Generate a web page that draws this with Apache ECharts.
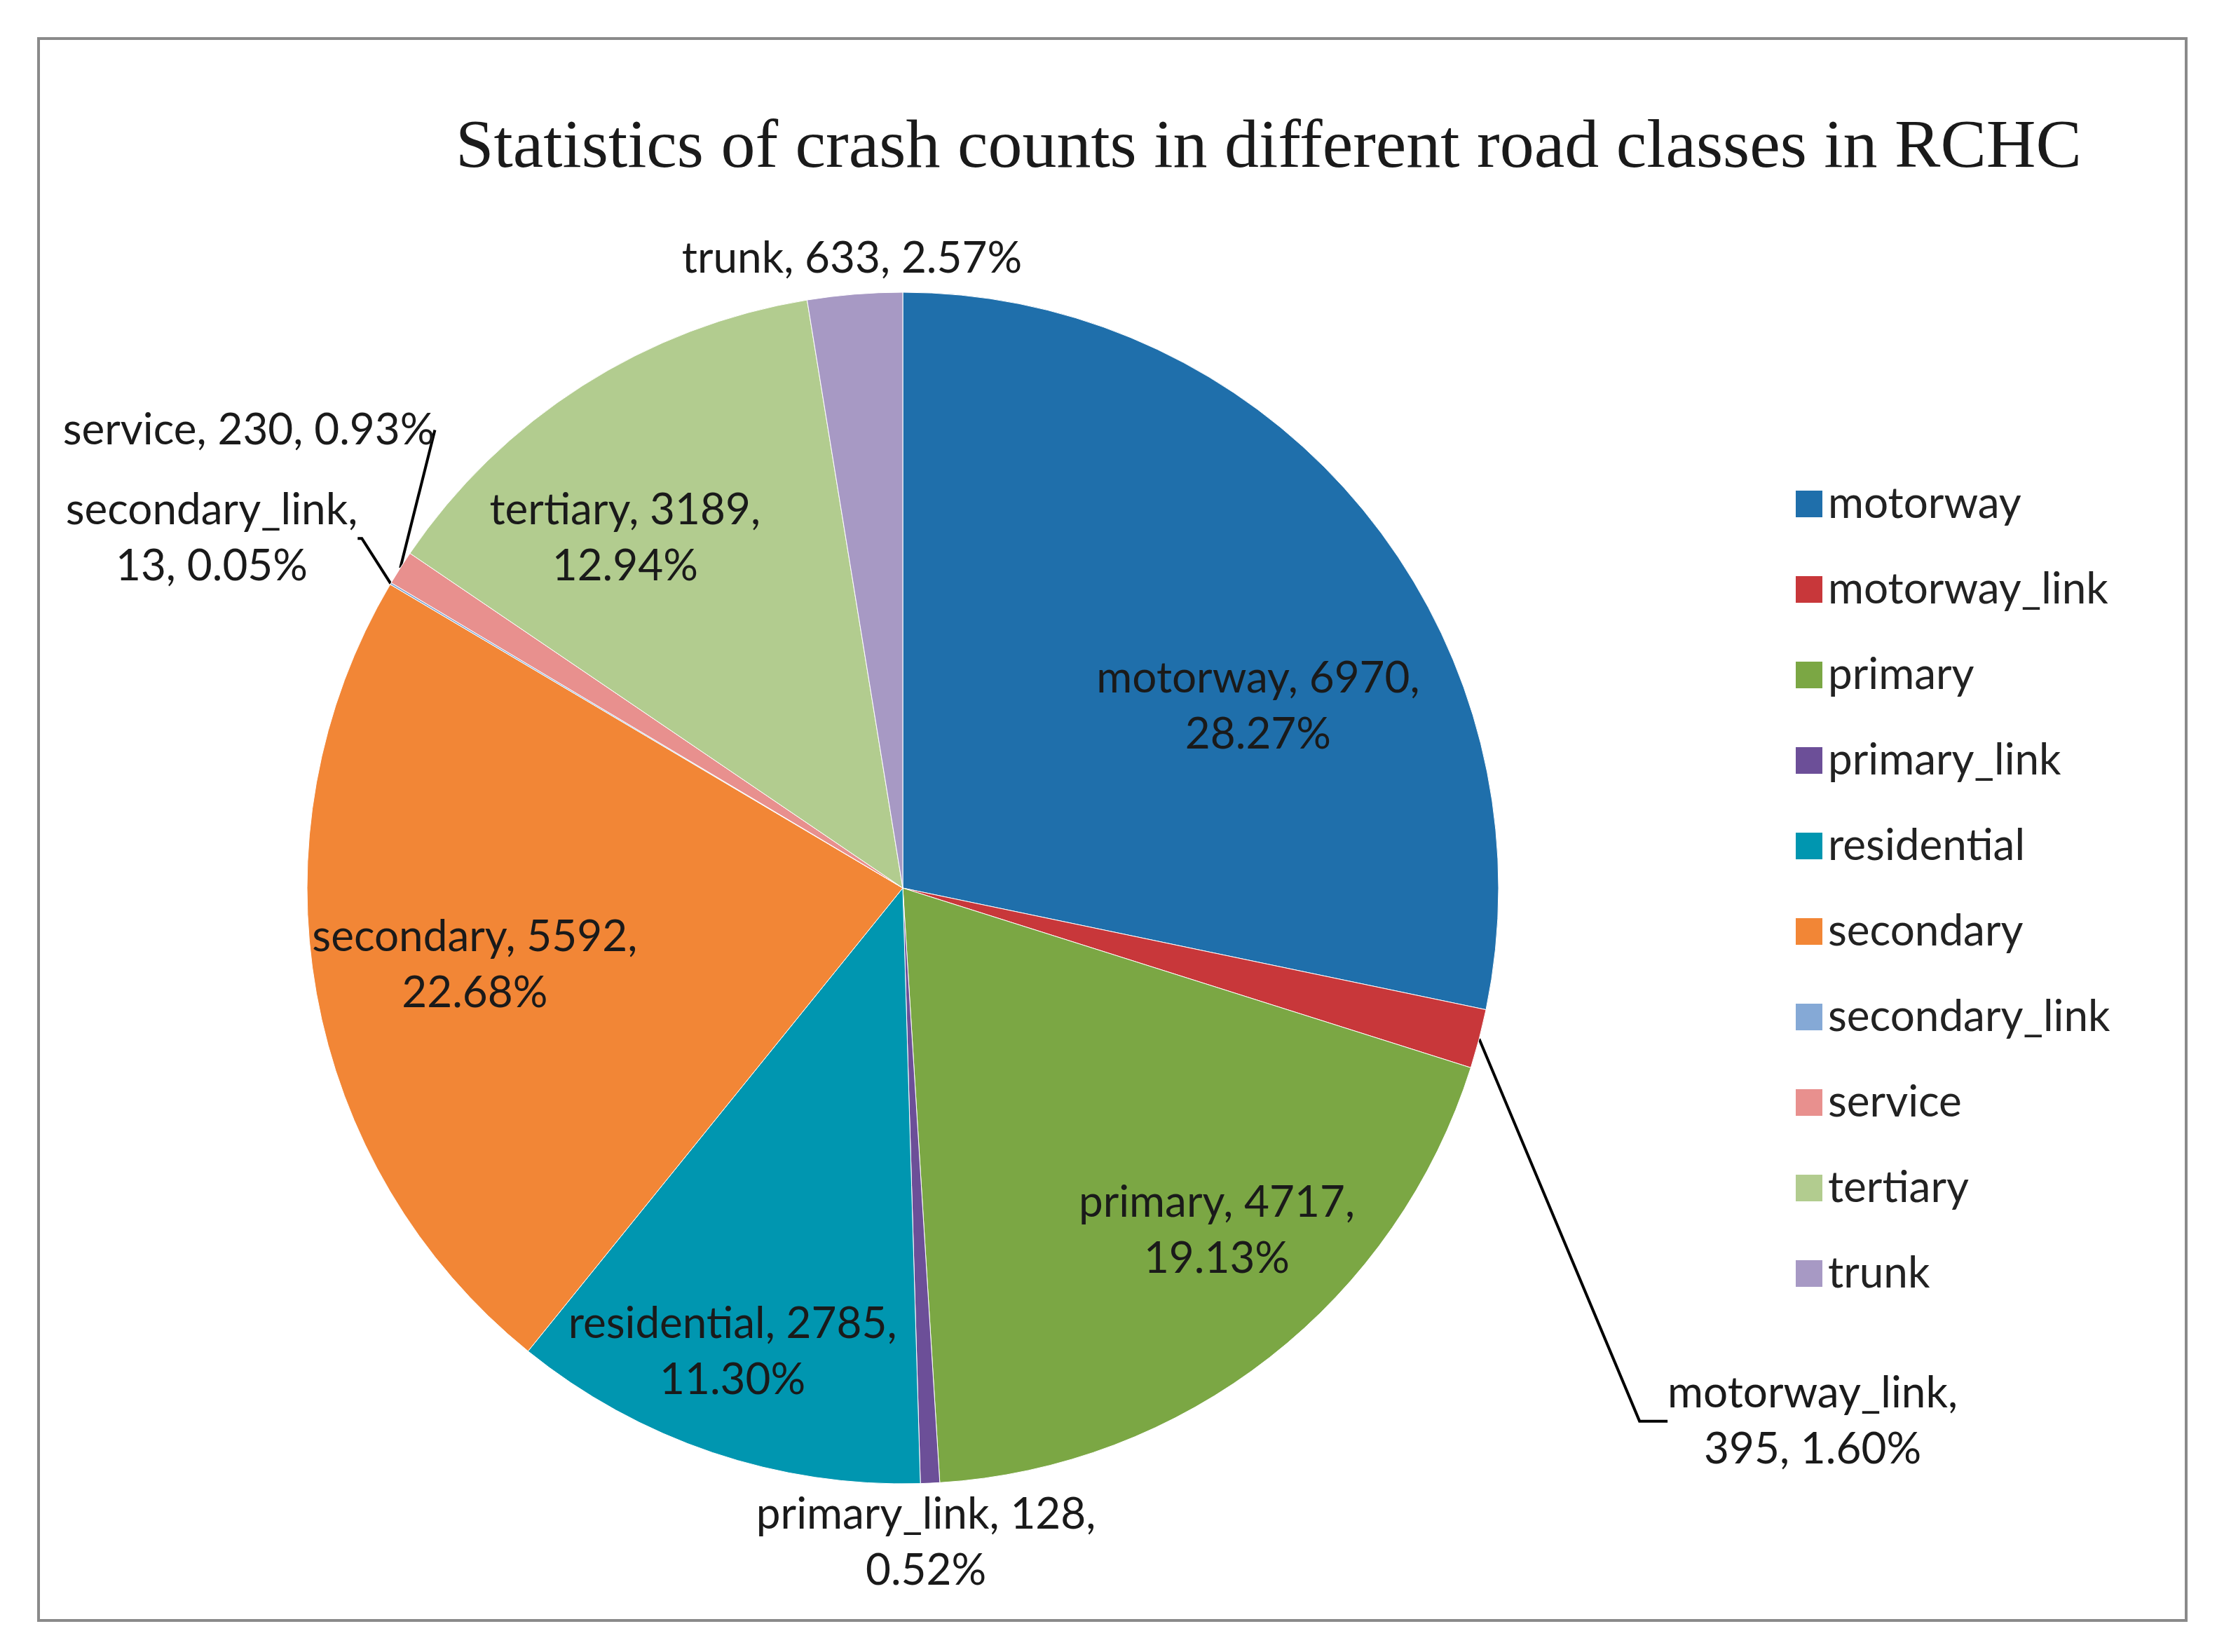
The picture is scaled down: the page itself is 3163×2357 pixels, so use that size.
<!DOCTYPE html>
<html>
<head>
<meta charset="utf-8">
<script src="https://cdn.jsdelivr.net/npm/echarts@6/dist/echarts.min.js"></script>
<style>
  html, body { margin: 0; padding: 0; background: #fff; }
  #chart { width: 3163px; height: 2357px; }
</style>
</head>
<body>
<div id="chart"></div>
<script>
// crash counts per road class (RCHC)
const roadClasses = ["motorway", "motorway_link", "primary", "primary_link", "residential",
  "secondary", "secondary_link", "service", "tertiary", "trunk"];
const crashCounts = [6970, 395, 4717, 128, 2785, 5592, 13, 230, 3189, 633];
const sliceColors = ["#1f6fab", "#c8373a", "#7ba744", "#6c4f98", "#0096b0",
  "#f28636", "#85a9d6", "#e8908e", "#b2cc8f", "#a799c4"];

// label spots: distance (in radii) and angle shift (deg) from slice mid-angle
const labelSpots = {
  motorway: [0.67, 12], motorway_link: [1.77, 15.7], primary: [0.78, -4.5],
  primary_link: [1.1, 0.6], residential: [0.83, 1.5], secondary: [0.73, 0],
  secondary_link: [1.3, -3.9], service: [1.34, 2.5], tertiary: [0.75, -5.9],
  trunk: [1.06, 0]
};
const outside = ["motorway_link", "primary_link", "secondary_link", "service", "trunk"];
const withLine = ["motorway_link", "secondary_link", "service"];
const oneLine = ["trunk", "service"];
const breakAfterName = ["motorway_link", "secondary_link"];

const CX = 1288, CY = 1267, R = 850;
const total = crashCounts.reduce((a, b) => a + b, 0);

function midAngle(i) {
  let before = 0;
  for (let k = 0; k < i; k++) before += crashCounts[k];
  return (before + crashCounts[i] / 2) / total * Math.PI * 2;
}

const chart = echarts.init(document.getElementById("chart"));
chart.setOption({
  animation: false,
  color: sliceColors,
  title: {
    text: "Statistics of crash counts in different road classes in RCHC",
    left: 1805, top: 158, textAlign: "center",
    textStyle: { fontFamily: "Liberation Serif", fontSize: 98, fontWeight: "normal", color: "#1a1a1a" }
  },
  graphic: [{
    type: "rect", silent: true, z: -1,
    shape: { x: 55, y: 55, width: 3064, height: 2257 },
    style: { fill: null, stroke: "#8a8a8a", lineWidth: 4 }
  }],
  legend: {
    orient: "vertical", left: 2555, top: 682,
    icon: "rect", itemWidth: 40, itemHeight: 40, itemGap: 58,
    textStyle: { fontFamily: "Lato", fontSize: 62, color: "#222", lineHeight: 64, padding: [0, 0, 0, 2] },
    data: roadClasses
  },
  series: [{
    type: "pie",
    center: [CX, CY], radius: R,
    startAngle: 90, clockwise: true,
    avoidLabelOverlap: false,
    itemStyle: { borderColor: "#fff", borderWidth: 1 },
    label: {
      fontFamily: "Lato", fontSize: 62, color: "#1a1a1a", lineHeight: 80,
      formatter: p => {
        const pct = (p.value / total * 100).toFixed(2) + "%";
        if (oneLine.includes(p.name)) return p.name + ", " + p.value + ", " + pct;
        if (breakAfterName.includes(p.name)) return p.name + ",\n" + p.value + ", " + pct;
        return p.name + ", " + p.value + ",\n" + pct;
      }
    },
    labelLine: { lineStyle: { color: "#000", width: 4 }, length: 20, length2: 20 },
    labelLayout: p => {
      const name = roadClasses[p.dataIndex];
      const s = labelSpots[name];
      const a = midAngle(p.dataIndex) + s[1] * Math.PI / 180;
      return {
        x: CX + s[0] * R * Math.sin(a),
        y: CY - s[0] * R * Math.cos(a),
        align: "center", verticalAlign: "middle"
      };
    },
    data: roadClasses.map((n, i) => ({
      name: n, value: crashCounts[i],
      label: { position: outside.includes(n) ? "outside" : "inside" },
      labelLine: { show: withLine.includes(n), length2: n === "motorway_link" ? 40 : 6 }
    }))
  }]
});
</script>
</body>
</html>
